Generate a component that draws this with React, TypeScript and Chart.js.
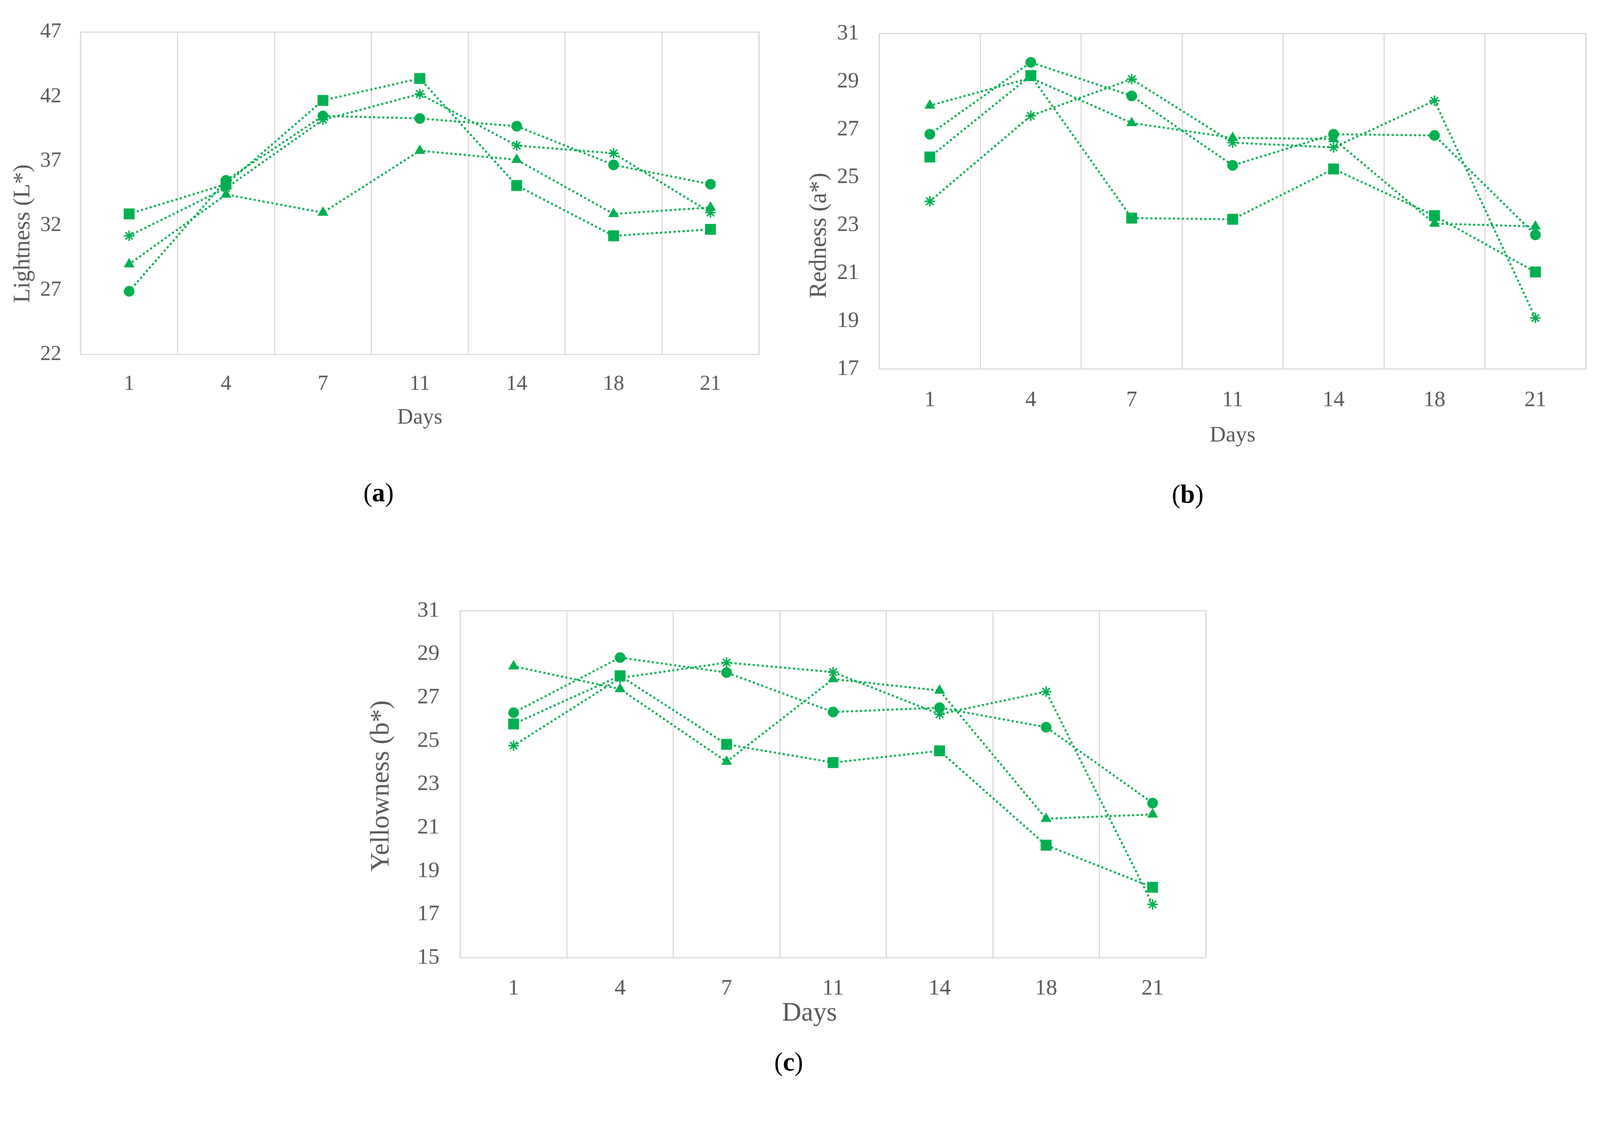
import React, { useEffect, useRef, useState } from 'react';
import { Chart, registerables } from 'chart.js';

Chart.register(...registerables);

// ---------- data ----------
const DAYS = ['1', '4', '7', '11', '14', '18', '21'];
const SERIES_NAMES = ['Sample 1', 'Sample 2', 'Sample 3', 'Sample 4'];
const POINT_STYLES = ['circle', 'rect', 'triangle', 'star'];

// (a) Lightness (L*)
const L_CIRCLE = [26.9, 35.5, 40.5, 40.3, 39.7, 36.7, 35.2];
const L_SQUARE = [32.9, 35.2, 41.7, 43.4, 35.1, 31.2, 31.7];
const L_TRIANGLE = [29.0, 34.4, 33.0, 37.8, 37.1, 32.9, 33.4];
const L_STAR = [31.2, 34.9, 40.2, 42.2, 38.2, 37.6, 33.0];

// (b) Redness (a*)
const A_CIRCLE = [26.8, 29.8, 28.4, 25.5, 26.8, 26.75, 22.6];
const A_SQUARE = [25.85, 29.25, 23.3, 23.25, 25.35, 23.4, 21.05];
const A_TRIANGLE = [28.0, 29.15, 27.27, 26.65, 26.6, 23.07, 22.95];
const A_STAR = [24.0, 27.57, 29.1, 26.45, 26.25, 28.2, 19.13];

// (c) Yellowness (b*)
const B_CIRCLE = [26.3, 28.84, 28.15, 26.33, 26.53, 25.63, 22.13];
const B_SQUARE = [25.78, 28.0, 24.84, 24.0, 24.54, 20.19, 18.25];
const B_TRIANGLE = [28.44, 27.39, 24.04, 27.85, 27.32, 21.41, 21.61];
const B_STAR = [24.78, 27.9, 28.61, 28.17, 26.23, 27.27, 17.46];

// ---------- styles ----------
const PAGE_W = 4303;
const PAGE_H = 2915;
const GREEN = '#00B050';
const GRID = '#D9D9D9';
const TEXT = '#595959';
const FONT = "'Liberation Serif', 'Times New Roman', serif";
const POINT_RADII = [14, 20, 16, 14];
const POINT_BORDER = [1, 1, 1, 4];

type Title = { text: string; x: number; y: number; size: number; rotate: boolean };
type PanelSpec = {
  canvas: { left: number; top: number; width: number; height: number };
  plot: { left: number; top: number; right: number; bottom: number };
  y: { min: number; max: number; step: number };
  tickSize: number;
  yTickPad: number;
  xTickPad: number;
  titles: Title[];
  series: number[][];
};

const framePlugin = {
  id: 'frame',
  beforeDatasetsDraw(chart: any) {
    const { ctx, chartArea: a } = chart;
    ctx.save();
    ctx.strokeStyle = GRID;
    ctx.lineWidth = 3;
    ctx.strokeRect(a.left, a.top, a.right - a.left, a.bottom - a.top);
    ctx.restore();
  },
};

function titlePlugin(titles: Title[], offX: number, offY: number) {
  return {
    id: 'axisTitles',
    afterDraw(chart: any) {
      const ctx = chart.ctx;
      titles.forEach((t) => {
        ctx.save();
        ctx.translate(t.x - offX, t.y - offY);
        if (t.rotate) ctx.rotate(-Math.PI / 2);
        ctx.font = `${t.size}px ${FONT}`;
        ctx.fillStyle = TEXT;
        ctx.textAlign = 'center';
        ctx.textBaseline = 'middle';
        ctx.fillText(t.text, 0, 0);
        ctx.restore();
      });
    },
  };
}

function Panel({ spec }: { spec: PanelSpec }) {
  const ref = useRef<HTMLCanvasElement | null>(null);
  useEffect(() => {
    const canvas = ref.current;
    if (!canvas) return;
    const c = spec.canvas;
    const p = spec.plot;
    const yAxisW = p.left - c.left;
    const padTop = p.top - c.top;
    const padRight = c.left + c.width - p.right;
    const xAxisH = c.top + c.height - p.bottom;
    const chart = new Chart(canvas, {
      type: 'line',
      data: {
        labels: DAYS,
        datasets: spec.series.map((vals, i) => ({
          label: SERIES_NAMES[i],
          data: vals,
          borderColor: GREEN,
          backgroundColor: GREEN,
          borderWidth: 6,
          borderDash: [0.1, 12],
          borderCapStyle: 'round',
          fill: false,
          tension: 0,
          pointStyle: POINT_STYLES[i] as any,
          pointRadius: POINT_RADII[i],
          pointBorderWidth: POINT_BORDER[i],
          pointBackgroundColor: GREEN,
          pointBorderColor: GREEN,
        })),
      },
      options: {
        animation: false,
        responsive: false,
        devicePixelRatio: 1,
        layout: { padding: { top: padTop, right: padRight, left: 0, bottom: 0 } },
        plugins: { legend: { display: false }, tooltip: { enabled: false } },
        scales: {
          x: {
            type: 'category',
            offset: true,
            grid: { display: true, offset: true, color: GRID, lineWidth: 3, drawTicks: false },
            border: { display: false },
            ticks: {
              color: TEXT,
              font: { family: FONT, size: spec.tickSize },
              padding: spec.xTickPad,
              maxRotation: 0,
              autoSkip: false,
            },
            afterFit: (s: any) => {
              s.height = xAxisH;
            },
          },
          y: {
            type: 'linear',
            min: spec.y.min,
            max: spec.y.max,
            grid: { display: false, drawTicks: false },
            border: { display: false },
            ticks: {
              stepSize: spec.y.step,
              color: TEXT,
              font: { family: FONT, size: spec.tickSize },
              padding: spec.yTickPad,
            },
            afterFit: (s: any) => {
              s.width = yAxisW;
            },
          },
        },
      },
      plugins: [framePlugin, titlePlugin(spec.titles, c.left, c.top)],
    } as any);
    return () => chart.destroy();
  }, [spec]);
  const c = spec.canvas;
  return (
    <canvas
      ref={ref}
      width={c.width}
      height={c.height}
      style={{ position: 'absolute', left: c.left, top: c.top, width: c.width, height: c.height }}
    />
  );
}

const PANEL_A: PanelSpec = {
  canvas: { left: 0, top: 0, width: 2090, height: 1200 },
  plot: { left: 217, top: 64, right: 2041, bottom: 953 },
  y: { min: 22, max: 47, step: 5 },
  tickSize: 57,
  yTickPad: 52,
  xTickPad: 46,
  titles: [
    { text: 'Lightness (L*)', x: 62, y: 628, size: 63, rotate: true },
    { text: 'Days', x: 1129, y: 1123, size: 59, rotate: false },
  ],
  series: [L_CIRCLE, L_SQUARE, L_TRIANGLE, L_STAR],
};

const PANEL_B: PanelSpec = {
  canvas: { left: 2150, top: 0, width: 2153, height: 1240 },
  plot: { left: 2365, top: 63, right: 4265, bottom: 992 },
  y: { min: 17, max: 31, step: 2 },
  tickSize: 59,
  yTickPad: 55,
  xTickPad: 49,
  titles: [
    { text: 'Redness (a*)', x: 2204, y: 633, size: 65, rotate: true },
    { text: 'Days', x: 3315, y: 1171, size: 60, rotate: false },
  ],
  series: [A_CIRCLE, A_SQUARE, A_TRIANGLE, A_STAR],
};

const PANEL_C: PanelSpec = {
  canvas: { left: 950, top: 1550, width: 2350, height: 1250 },
  plot: { left: 1238, top: 1642, right: 3243, bottom: 2575 },
  y: { min: 15, max: 31, step: 2 },
  tickSize: 60,
  yTickPad: 56,
  xTickPad: 47,
  titles: [
    { text: 'Yellowness (b*)', x: 1026, y: 2113, size: 71, rotate: true },
    { text: 'Days', x: 2177, y: 2725, size: 72, rotate: false },
  ],
  series: [B_CIRCLE, B_SQUARE, B_TRIANGLE, B_STAR],
};

const PANEL_LABELS = [
  { letter: 'a', x: 1018, y: 1325 },
  { letter: 'b', x: 3194, y: 1329 },
  { letter: 'c', x: 2121, y: 2855 },
];

function getScale() {
  if (typeof window === 'undefined') return 1;
  const w = document.documentElement.clientWidth || window.innerWidth;
  const h = document.documentElement.clientHeight || window.innerHeight;
  const k = Math.min(w / PAGE_W, h / PAGE_H);
  return k > 0 ? k : 1;
}

export default function App() {
  const [k] = useState(getScale);
  return (
    <div
      style={{
        position: 'absolute',
        left: 0,
        top: 0,
        width: PAGE_W * k,
        height: PAGE_H * k,
        overflow: 'hidden',
        background: '#ffffff',
      }}
    >
      <div
        style={{
          position: 'absolute',
          left: 0,
          top: 0,
          width: PAGE_W,
          height: PAGE_H,
          background: '#ffffff',
          transform: `scale(${k})`,
          transformOrigin: '0 0',
        }}
      >
        <Panel spec={PANEL_A} />
        <Panel spec={PANEL_B} />
        <Panel spec={PANEL_C} />
        {PANEL_LABELS.map((l) => (
          <div
            key={l.letter}
            style={{
              position: 'absolute',
              left: l.x,
              top: l.y,
              transform: 'translate(-50%, -50%)',
              fontFamily: FONT,
              fontSize: 70,
              lineHeight: 1,
              color: '#000000',
              whiteSpace: 'nowrap',
            }}
          >
            (<b>{l.letter}</b>)
          </div>
        ))}
      </div>
    </div>
  );
}
